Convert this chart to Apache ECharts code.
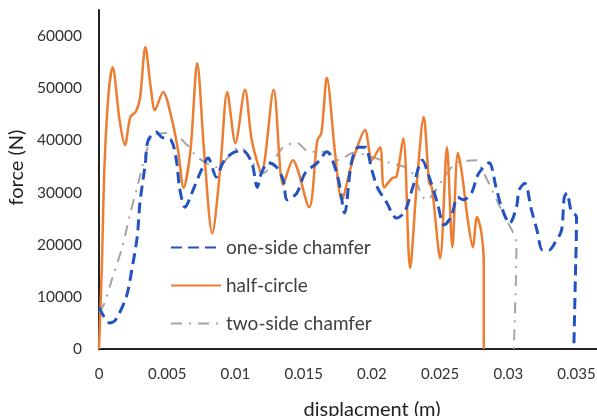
<!DOCTYPE html>
<html>
<head>
<meta charset="utf-8">
<script src="https://cdn.jsdelivr.net/npm/echarts@6/dist/echarts.min.js"></script>
<style>
  html, body { margin: 0; padding: 0; background: #fff; }
  #main { width: 597px; height: 416px; }
</style>
</head>
<body>
<div id="main"></div>
<script>
// 数据 (displacement in m, force in N)
var halfCircleX = [0, 0.0002, 0.0004, 0.0007, 0.001, 0.0015, 0.0019, 0.0023, 0.0027, 0.003, 0.0034, 0.0038, 0.0041, 0.0047, 0.0053, 0.0058, 0.0062, 0.0067, 0.0072, 0.0077, 0.0083, 0.0089, 0.0094, 0.01, 0.0107, 0.0112, 0.0119, 0.0128, 0.0135, 0.0142, 0.0154, 0.016, 0.0163, 0.0167, 0.0173, 0.0178, 0.0184, 0.0187, 0.0195, 0.02, 0.0206, 0.0209, 0.0215, 0.0218, 0.0223, 0.0228, 0.0233, 0.0238, 0.0242, 0.0244, 0.025, 0.0255, 0.0259, 0.0263, 0.0266, 0.027, 0.0274, 0.0277, 0.028, 0.0282, 0.0282];
var halfCircleY = [0, 15000, 35000, 49000, 54000, 44000, 39100, 44500, 45500, 48000, 57900, 50000, 45800, 49300, 44500, 38000, 30900, 38000, 54800, 38000, 22200, 35000, 49300, 39500, 49700, 40000, 33900, 49700, 31500, 36200, 27200, 40000, 41400, 52000, 37600, 28600, 34300, 37000, 42000, 36200, 38700, 31000, 32800, 33000, 40400, 15500, 32000, 44500, 31800, 31000, 17400, 38700, 19500, 37600, 33700, 25300, 19500, 25300, 22800, 16500, 0];

var oneSideX = [0, 0.0008, 0.0012, 0.002, 0.0024, 0.0028, 0.003, 0.0034, 0.0036, 0.0042, 0.0046, 0.0053, 0.0057, 0.0059, 0.0063, 0.0069, 0.0075, 0.008, 0.0086, 0.0091, 0.0098, 0.0105, 0.0112, 0.0116, 0.0119, 0.0124, 0.013, 0.0135, 0.0138, 0.0145, 0.0151, 0.016, 0.0167, 0.0175, 0.018, 0.0185, 0.019, 0.0195, 0.02, 0.0204, 0.0211, 0.0218, 0.0224, 0.023, 0.0237, 0.0242, 0.0248, 0.0253, 0.0258, 0.0263, 0.0267, 0.0273, 0.0277, 0.028, 0.0286, 0.0291, 0.0295, 0.0301, 0.0306, 0.0308, 0.0312, 0.0317, 0.0321, 0.0325, 0.033, 0.0334, 0.0339, 0.0341, 0.0343, 0.0346, 0.035, 0.0349, 0.0348];
var oneSideY = [8000, 5000, 5500, 10000, 15100, 21500, 28000, 35700, 40000, 41600, 40600, 40000, 35700, 31000, 27200, 30500, 34300, 36600, 33000, 35800, 37600, 38100, 35700, 31000, 33700, 35700, 34900, 32400, 28600, 29900, 33700, 35700, 37800, 33000, 26100, 35700, 38700, 38700, 34300, 31000, 28000, 25100, 26300, 31000, 36200, 33000, 28000, 23800, 25300, 29100, 28600, 29900, 33000, 34300, 35700, 31000, 27200, 24100, 27200, 30500, 31800, 26600, 22800, 19000, 19000, 20300, 22800, 29100, 29900, 26600, 25300, 12000, 0];

var twoSideX = [0, 0.0004, 0.001, 0.0017, 0.0023, 0.0028, 0.0035, 0.004, 0.0053, 0.0065, 0.0072, 0.0086, 0.0103, 0.012, 0.0135, 0.0145, 0.0154, 0.0167, 0.0176, 0.0186, 0.0213, 0.0228, 0.024, 0.0255, 0.0262, 0.0277, 0.028, 0.0294, 0.03, 0.0306, 0.0304];
var twoSideY = [7000, 8800, 13800, 19500, 26100, 31000, 38100, 41000, 41400, 39000, 36800, 34900, 38700, 33700, 38700, 39500, 37800, 37800, 36200, 37600, 35700, 34300, 28600, 33700, 35700, 36200, 34900, 27200, 24100, 20300, 0];

var seriesNames = ["one-side chamfer", "half-circle", "two-side chamfer"];

function pairs(xs, ys) {
  var res = [];
  for (var i = 0; i < xs.length; i++) {
    res.push([xs[i], ys[i]]);
  }
  return res;
}

var font = "Lato, 'Open Sans', sans-serif";
var chart = echarts.init(document.getElementById("main"));

chart.setOption({
  animation: false,
  grid: {
    left: 99,
    right: 0,
    top: 10,
    bottom: 67,
    outerBoundsMode: "none"   // 轴名称允许超出画布
  },
  legend: {
    orient: "vertical",
    left: 165,
    top: 233,
    itemWidth: 50,
    itemHeight: 14,
    itemGap: 19,
    itemStyle: { opacity: 0 },   // 只显示线, 不要圆点
    textStyle: { color: "#404040", fontSize: 19, fontFamily: font },
    data: seriesNames
  },
  xAxis: {
    type: "value",
    min: 0,
    max: 0.0365,
    interval: 0.005,
    name: "displacment (m)",
    nameLocation: "middle",
    nameGap: 51,
    nameTextStyle: { color: "#222", fontSize: 20, fontFamily: font, padding: [0, 0, 0, 48] },
    axisLine: { lineStyle: { color: "#222", width: 2 } },   // x轴坐标轴
    axisTick: { show: false },
    splitLine: { show: false },
    axisLabel: { color: "#333", fontSize: 15, fontFamily: font, margin: 18, showMaxLabel: false }
  },
  yAxis: {
    type: "value",
    min: 0,
    max: 65000,
    interval: 10000,
    name: "force (N)",
    nameLocation: "middle",
    nameGap: 59,
    nameTextStyle: { color: "#222", fontSize: 20, fontFamily: font, padding: [0, 0, 0, 24] },
    axisLine: { show: true, lineStyle: { color: "#222", width: 2 } },  // y轴坐标轴
    axisTick: { show: false },
    splitLine: { show: false },
    axisLabel: {
      color: "#333", fontSize: 15.5, fontFamily: font, margin: 17, showMaxLabel: false,
      formatter: function (v) { return String(v); }
    }
  },
  series: [
    {
      name: seriesNames[0],
      type: "line",
      smooth: 0.3,
      symbol: "none",
      z: 3,
      lineStyle: { color: "#2253c0", width: 3, type: [11, 6] },
      itemStyle: { color: "#2253c0" },
      data: pairs(oneSideX, oneSideY)
    },
    {
      name: seriesNames[1],
      type: "line",
      smooth: 0.3,
      symbol: "none",
      z: 2,
      lineStyle: { color: "#ed7d31", width: 2.5 },
      itemStyle: { color: "#ed7d31" },
      data: pairs(halfCircleX, halfCircleY)
    },
    {
      name: seriesNames[2],
      type: "line",
      smooth: 0.3,
      symbol: "none",
      z: 1,
      lineStyle: { color: "#a5a5a5", width: 2, type: [11, 7, 2, 7] },
      itemStyle: { color: "#a5a5a5" },
      data: pairs(twoSideX, twoSideY)
    }
  ]
});
</script>
</body>
</html>
